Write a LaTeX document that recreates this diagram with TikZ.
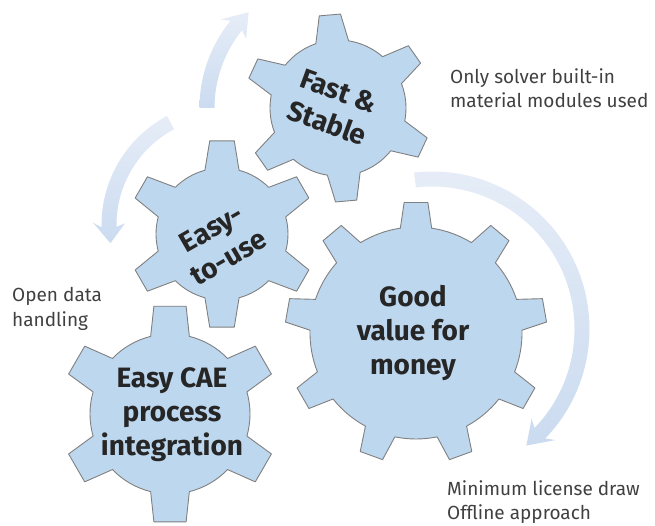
\documentclass[tikz,border=0pt]{standalone}
\usepackage{fontspec}
\setmainfont{Fira Sans}
\usepackage{tikz}

\definecolor{cogblue}{RGB}{189,215,238}
\definecolor{cogedge}{RGB}{128,128,128}
\definecolor{flowlight}{RGB}{230,237,247}
\definecolor{flowdark}{RGB}{203,219,240}
\definecolor{inktext}{RGB}{38,38,38}
\definecolor{notetext}{RGB}{64,64,64}

% cog: centre, teeth, tip radius, body radius, first tooth angle, half tip, half root
\newcommand\cog[7]{%
  \begin{scope}[shift={#1}]
    \filldraw[cogline] ({#5-#7}:#4)
      \foreach \g in {1,...,#2}{%
        -- ({#5+(\g-1)*360/#2-#6}:#3) -- ({#5+(\g-1)*360/#2+#6}:#3)
        -- ({#5+(\g-1)*360/#2+#7}:#4)
        arc[start angle={#5+(\g-1)*360/#2+#7}, end angle={#5+\g*360/#2-#7}, radius=#4]}
      -- cycle;
  \end{scope}}

% bent arrow round a centre: centre, radius, start, head base, barb, tip
\newcommand\bentarrow[6]{%
  \begin{scope}[shift={#1}]
    \path[flow] ({#3}:{#2+7.5}) arc[start angle=#3, end angle=#4, radius=#2+7.5]
      -- ({#5}:{#2+16}) -- ({#6}:{#2}) -- ({#5}:{#2-16}) -- ({#4}:{#2-7.5})
      arc[start angle=#4, end angle=#3, radius=#2-7.5] -- cycle;
  \end{scope}}

\begin{document}
\begin{tikzpicture}[x=1pt,y=1pt,
    cogline/.style={fill=cogblue,draw=cogedge,line width=0.9pt,line join=round},
    flow/.style={top color=flowlight,bottom color=flowdark,draw=none},
    cogtext/.style={align=center,text=inktext,font=\fontsize{28}{34}\selectfont\bfseries},
    note/.style={align=left,text=notetext,anchor=west,inner sep=2pt,font=\fontsize{19}{24.5}\selectfont}]
  \useasboundingbox (0,0) rectangle (655,525);

  % arrows behind the cogs
  \bentarrow{(338,417)}{131}{180}{141}{143}{133}
  \bentarrow{(225,300)}{116}{118}{181}{179}{189}
  \bentarrow{(432,196)}{150}{96.5}{-44}{-42}{-51}

  % cogs
  \cog{(338,417)}{6}{94}{68}{95}{6.5}{14}
  \cog{(222,291)}{6}{94}{66}{90}{7.5}{15}
  \cog{(416,192)}{9}{131}{106}{90}{5.2}{8.5}
  \cog{(170,111)}{6}{109}{80}{90}{8.5}{14}

  \node[cogtext,rotate=-20] (fast) at (333,418) {Fast \&\\Stable};
  \node[cogtext,rotate=30] (easy) at (220,282) {Easy-\\to-use};
  \node[cogtext] (value) at (413,192) {Good\\value for\\money};
  \node[cogtext] (cae) at (172,110) {Easy CAE\\process\\integration};

  % notes
  \node[note] (open) at (10,216) {Open data\\handling};
  \node[note] (solver) at (448,437) {Only solver built-in\\material modules used};
  \node[note] (license) at (445,23) {Minimum license draw\\Offline approach};
\end{tikzpicture}
\end{document}
